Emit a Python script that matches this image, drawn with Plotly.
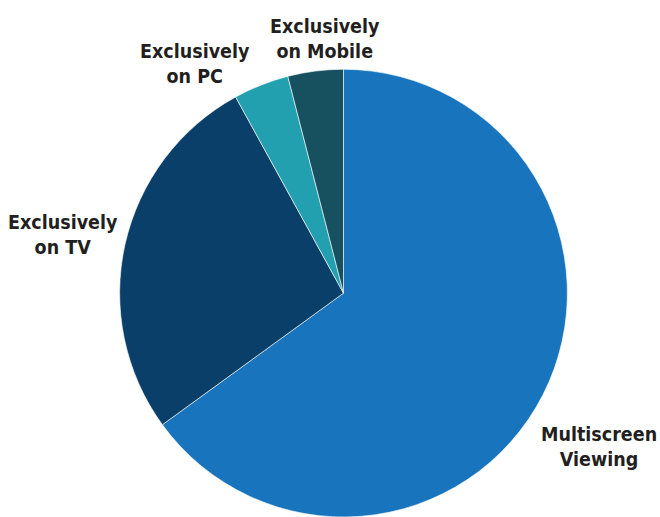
import plotly.graph_objects as go

labels = ["Multiscreen Viewing", "Exclusively on TV", "Exclusively on PC", "Exclusively on Mobile"]
label_text = ["Multiscreen<br>Viewing", "Exclusively<br>on TV", "Exclusively<br>on PC", "Exclusively<br>on Mobile"]
values = [65, 27, 4, 4]
colors = ["#1874bc", "#0a3f69", "#22a0b0", "#17505e"]

W, H = 660, 517
# label anchor positions in pixels (center x, center y from top)
label_pos = [(599, 447), (63, 235), (195, 64), (325, 39)]

fig = go.Figure(go.Pie(
    labels=labels, values=values, sort=False, direction="clockwise", rotation=0,
    marker=dict(colors=colors, line=dict(color="white", width=0.6)),
    textinfo="none", hoverinfo="label+percent", showlegend=False,
    domain=dict(x=[0.1803, 0.8606], y=[0.0, 0.866]),
))

font = dict(family="DejaVu Sans Condensed, sans-serif", size=19.5, color="#231f20")
for t, (px, py) in zip(label_text, label_pos):
    fig.add_annotation(x=px / W, y=1 - py / H, xref="paper", yref="paper",
                       text="<b>" + t + "</b>", showarrow=False, font=font,
                       xanchor="center", yanchor="middle", align="center")

fig.update_layout(width=W, height=H, margin=dict(l=0, r=0, t=0, b=0),
                  paper_bgcolor="white", plot_bgcolor="white")
fig.write_html("out.html", config={"displayModeBar": False},
               post_script="document.body.style.margin='0';document.body.style.overflow='hidden';")
